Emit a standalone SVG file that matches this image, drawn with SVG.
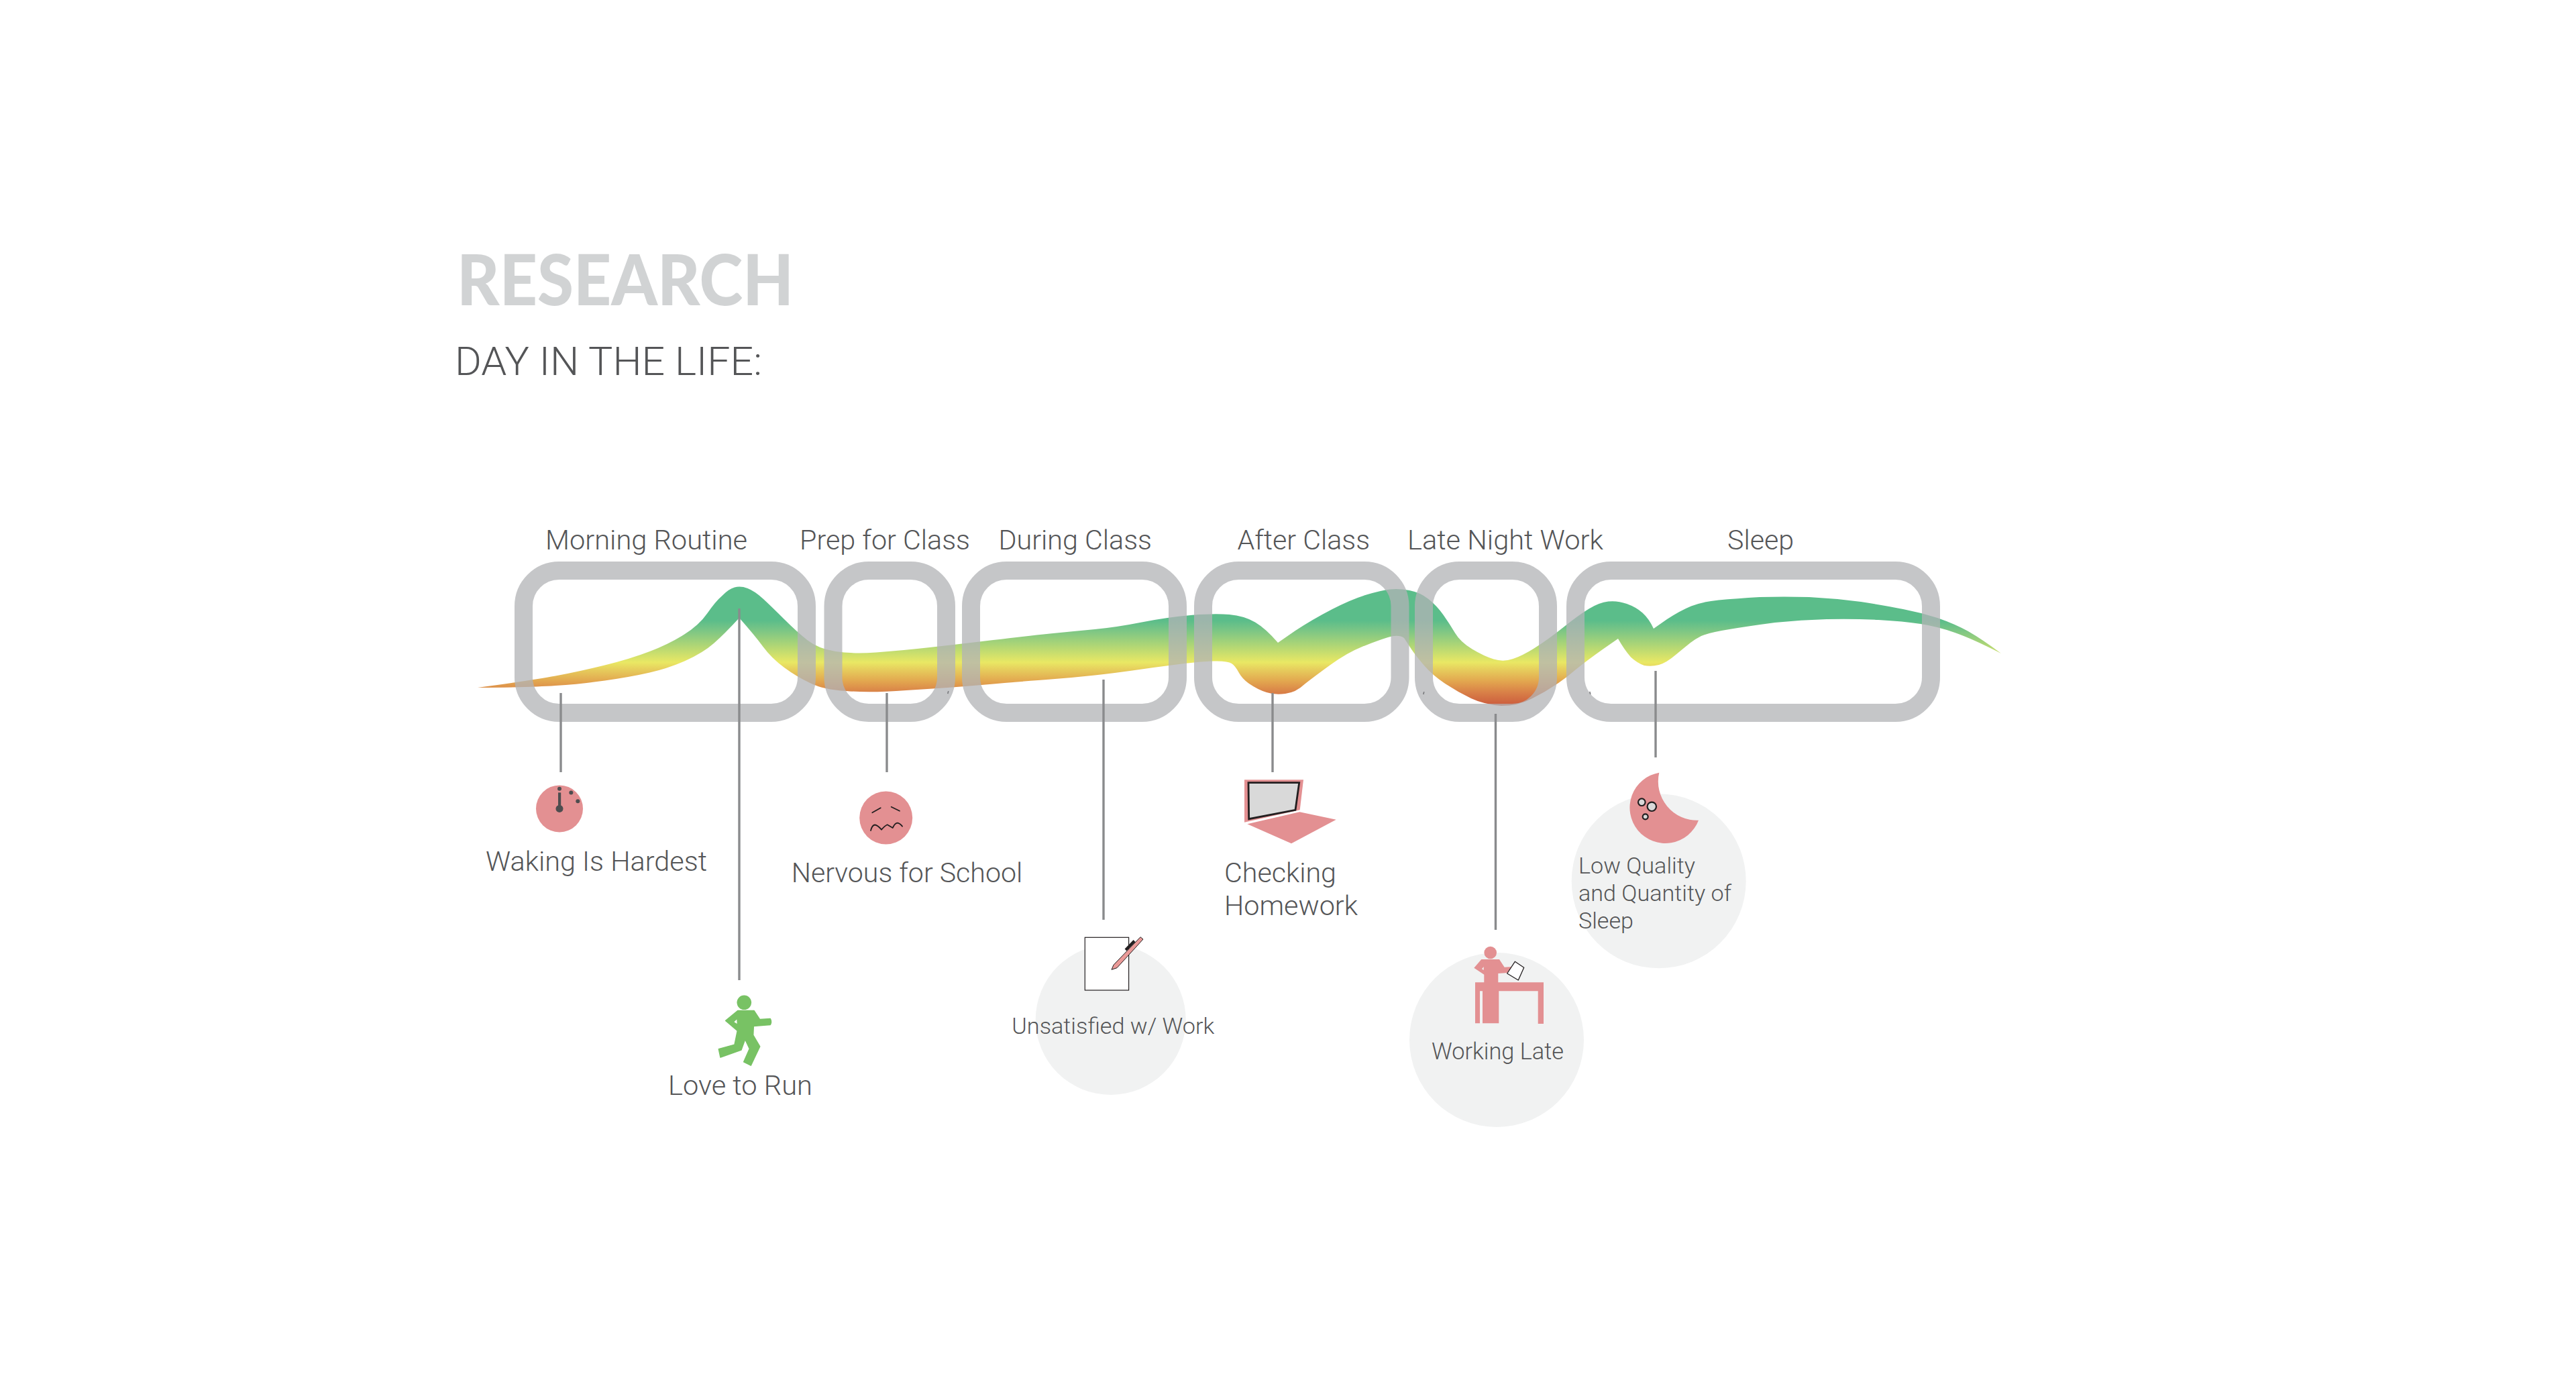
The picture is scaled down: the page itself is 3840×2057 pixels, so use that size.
<svg xmlns="http://www.w3.org/2000/svg" width="3840" height="2057" viewBox="0 0 3840 2057">
<style>
text{font-family:Roboto,"Liberation Sans",sans-serif;font-weight:285;fill:#545557}
.h{font-size:40px}
.s{font-size:34px}
.ring{fill:none;stroke:#b2b3b5;stroke-opacity:.75;stroke-width:27}
.conn{stroke:#8a8b8d;stroke-width:3.4;fill:none}
.pink{fill:#e39092}
.halo{fill:#f1f2f2}
.ink{fill:none;stroke:#231f20;stroke-width:1.8;stroke-linecap:round;stroke-linejoin:round}
</style>
<defs>
<linearGradient id="mood" gradientUnits="userSpaceOnUse" x1="0" y1="925" x2="0" y2="1052">
<stop offset="0" stop-color="#5bbd8a"/>
<stop offset=".12" stop-color="#7cc685"/>
<stop offset=".49" stop-color="#e9e864"/>
<stop offset=".58" stop-color="#e6cc5c"/>
<stop offset=".72" stop-color="#e2a44e"/>
<stop offset=".85" stop-color="#d87e47"/>
<stop offset="1" stop-color="#cb5a3c"/>
</linearGradient>
</defs>
<rect width="3840" height="2057" fill="#fff"/>
<g id="title">
<text x="681" y="455" textLength="502" lengthAdjust="spacingAndGlyphs" style="font-family:Lato,'Liberation Sans',sans-serif;font-weight:900;font-size:104px;fill:#d1d3d4">RESEARCH</text>
<text x="678" y="559" textLength="458" lengthAdjust="spacingAndGlyphs" style="font-size:60px">DAY IN THE LIFE:</text>
</g>
<g id="mood-ribbon">
<path fill="url(#mood)" d="M712,1025 Q793,1014 828,1007.5 Q863,1001 901.5,991.5 Q940,982 968.5,971 Q997,960 1019.5,946 Q1042,932 1054.5,914 Q1067,896 1076.5,888 Q1086,878 1095,875.5 Q1104,873 1114.5,877 Q1125,881 1137.5,892.5 Q1150,904 1169,923 Q1188,942 1204,954.5 Q1220,967 1245.5,971 Q1271,975 1306,972.5 Q1341,970 1386,965 Q1431,960 1480.5,954 Q1530,948 1565,944.5 Q1600,941 1632,938 Q1664,935 1702,927.5 Q1740,920 1775,917 Q1810,914 1832.5,916 Q1855,918 1871,927.5 Q1887,937 1905,958 L1931,940 Q1957,923 1986,908 Q2015,893 2037,886.5 Q2059,880 2072,878.5 Q2085,877 2101,880 Q2117,883 2129.5,893 Q2142,903 2151.5,916.5 Q2161,930 2169,943.5 Q2177,957 2194.5,967.5 Q2212,978 2226.5,982.5 Q2241,987 2255.5,982 Q2270,977 2289,965 Q2308,953 2330.5,935 Q2353,917 2368.5,907.5 Q2384,898 2397.5,896.5 Q2411,895 2425,900 Q2439,905 2448.5,913.5 Q2458,922 2465,937 L2485,923 Q2505,910 2521,903.5 Q2537,897 2562,894.5 Q2588,892 2623,890 Q2659,889 2697,890 Q2736,892 2774,897 Q2812,903 2837,908 Q2863,913 2888,921 Q2914,930 2934,941 Q2955,953 2983,974 Q2940,952 2914,943 Q2889,934 2863,930 Q2838,926 2800,924 Q2761,922 2723,923 Q2685,924 2646,928 Q2608,933 2578,938 Q2547,943 2536,948 Q2528,952 2520,958 Q2510,966 2498,976 Q2484,988 2473,991 Q2462,994 2451,992 Q2440,988 2431,979.5 Q2421,968 2412,952 L2389,968 Q2365,985 2349,998 Q2333,1012 2317,1022 Q2301,1033 2282,1042 Q2263,1052 2238,1052 Q2212,1050 2193,1041 Q2174,1032 2155,1019.5 Q2136,1007 2123,992 Q2110,977 2103.5,967 Q2097,957 2093,951 Q2085,945 2069,950 Q2053,955 2030.5,964 Q2008,973 1982.5,991.5 Q1957,1010 1944.5,1020 Q1932,1032 1916,1034 Q1900,1036 1888,1032 Q1875,1028 1862,1019 Q1852,1012 1847,1003 Q1841,992 1836,989 Q1830,985 1810,985.5 Q1791,986 1765.5,989 Q1740,992 1702,997.5 Q1664,1003 1632,1006.5 Q1600,1010 1566.5,1012.5 Q1533,1015 1469,1020.5 Q1405,1026 1351,1029 Q1297,1033 1262,1030 Q1227,1028 1207.5,1018 Q1188,1009 1169,995 Q1150,981 1137.5,964 Q1125,947 1102,921 Q1080,945 1064,959 Q1048,973 1022.5,984.5 Q997,996 968.5,1002.5 Q940,1009 901.5,1014.5 Q863,1020 828,1022 Q793,1024.5 712,1025 Z"/>
</g>
<g id="phase-morning"><rect class="ring" x="780.5" y="850.5" width="422" height="212" rx="53" ry="53"/><text class="h" x="813" y="819" textLength="301" lengthAdjust="spacingAndGlyphs">Morning Routine</text></g>
<g id="phase-prep"><rect class="ring" x="1242" y="850.5" width="168.500" height="212" rx="53" ry="53"/><text class="h" x="1192" y="819" textLength="254" lengthAdjust="spacingAndGlyphs">Prep for Class</text></g>
<g id="phase-during"><rect class="ring" x="1447.500" y="850.5" width="308" height="212" rx="53" ry="53"/><text class="h" x="1488.500" y="819" textLength="228.500" lengthAdjust="spacingAndGlyphs">During Class</text></g>
<g id="phase-after"><rect class="ring" x="1793.500" y="850.5" width="293.500" height="212" rx="53" ry="53"/><text class="h" x="1844.500" y="819" textLength="197.500" lengthAdjust="spacingAndGlyphs">After Class</text></g>
<g id="phase-night"><rect class="ring" x="2122.500" y="850.5" width="185" height="212" rx="53" ry="53"/><text class="h" x="2098" y="819" textLength="292" lengthAdjust="spacingAndGlyphs">Late Night Work</text></g>
<g id="phase-sleep"><rect class="ring" x="2348.500" y="850.5" width="530" height="212" rx="53" ry="53"/><text class="h" x="2575" y="819" textLength="99" lengthAdjust="spacingAndGlyphs">Sleep</text></g>
<g id="specks" fill="#77787b"><rect x="1412.500" y="1030" width="1.600" height="4" transform="rotate(15 1413 1032)"/><rect x="2121.500" y="1031" width="1.600" height="4" transform="rotate(15 2122 1033)"/><rect x="2369.500" y="1031" width="1.600" height="4" transform="rotate(-15 2370 1033)"/></g>
<g id="connectors">
<line class="conn" x1="836" y1="1033" x2="836" y2="1151"/>
<line class="conn" x1="1102" y1="907" x2="1102" y2="1461"/>
<line class="conn" x1="1322" y1="1033" x2="1322" y2="1151"/>
<line class="conn" x1="1645" y1="1013" x2="1645" y2="1371"/>
<line class="conn" x1="1897" y1="1033" x2="1897" y2="1151"/>
<line class="conn" x1="2229.500" y1="1064" x2="2229.500" y2="1386"/>
<line class="conn" x1="2468" y1="1000" x2="2468" y2="1129"/>
</g>
<g id="waking">
<circle class="pink" cx="834" cy="1205.400" r="35"/>
<g fill="#4d4d4f"><rect x="832" y="1181.400" width="4.200" height="24"/><circle cx="834" cy="1205.400" r="5.500"/><circle cx="834" cy="1175.700" r="3"/><circle cx="851.300" cy="1181.400" r="3"/><circle cx="861.300" cy="1194.300" r="3"/></g>
<text class="h" x="724" y="1297.500" textLength="330" lengthAdjust="spacingAndGlyphs">Waking Is Hardest</text>
</g>
<g id="run">
<circle cx="1109.300" cy="1494.300" r="10.800" fill="#78c264"/>
<path fill="#78c264" stroke="#78c264" stroke-width="1.500" stroke-linejoin="round" d="M1100,1506.400 L1124,1506.400 L1132.700,1519.600 L1148.300,1518.600 Q1150.700,1523.200 1148.300,1527.500 L1123.300,1529.600 L1122.700,1542.900 L1132.700,1560 L1119.300,1588.200 L1108.700,1582.900 L1117.300,1563.200 L1110.700,1549.300 L1105,1565 L1074,1576 L1071.300,1563.600 L1095,1557.100 L1099.300,1536.400 L1081.700,1521.400 Z"/>
<path fill="#fff" d="M1098.300,1519.600 L1094.300,1523.200 L1098.700,1526 Z"/>
<text class="h" x="996" y="1632" textLength="215" lengthAdjust="spacingAndGlyphs">Love to Run</text>
</g>
<g id="nervous">
<circle class="pink" cx="1320.700" cy="1219" r="39.500"/>
<path class="ink" d="M1300.300,1211.300 L1312.700,1204.300 M1328.700,1202.700 L1341,1208.700 M1298,1238 Q1300,1230 1304,1229.500 Q1308,1229.500 1314,1236.700 Q1319,1231 1322.700,1229.300 L1330.700,1234 Q1334,1227 1338,1226.700 Q1341,1227 1345,1231.700"/>
<text class="h" x="1179.700" y="1315" textLength="344.500" lengthAdjust="spacingAndGlyphs">Nervous for School</text>
</g>
<g id="unsatisfied">
<circle class="halo" cx="1655.700" cy="1520" r="112"/>
<rect x="1617.300" y="1397.300" width="65.300" height="78.700" fill="#fff" stroke="#231f20" stroke-width="1.200"/>
<path d="M1678,1416 L1691,1402.500" stroke="#231f20" stroke-width="4" fill="none"/>
<path fill="#ea9a98" stroke="#231f20" stroke-width="1" stroke-linejoin="round" d="M1657,1445.300 L1660,1438.300 L1700,1396.700 L1704,1400 L1665,1442.700 Z"/>
<text class="s" x="1508.300" y="1541" textLength="302" lengthAdjust="spacingAndGlyphs">Unsatisfied w/ Work</text>
</g>
<g id="homework">
<path class="pink" d="M1855,1162.300 L1943,1162.300 L1937.700,1207.300 L1855,1225.700 Z"/>
<path fill="#d9d9d9" stroke="#231f20" stroke-width="2.800" d="M1861,1166.700 L1936.700,1166.700 L1931,1207.300 L1861.700,1220.700 Z"/>
<path class="pink" d="M1859.300,1228.300 L1937.300,1210.300 L1991.700,1221.700 L1925,1257.300 Z"/>
<text class="h" x="1825" y="1315" textLength="167" lengthAdjust="spacingAndGlyphs">Checking</text>
<text class="h" x="1825" y="1364.300" textLength="199" lengthAdjust="spacingAndGlyphs">Homework</text>
</g>
<g id="working-late">
<circle class="halo" cx="2231" cy="1550" r="130"/>
<circle class="pink" cx="2221.700" cy="1420" r="9.300"/>
<path class="pink" d="M2208.300,1430 L2235,1430 L2242.700,1441.700 L2253.300,1441 L2248.300,1450 L2233.300,1451 L2233.300,1464.300 L2301,1464.300 L2301,1526 L2292.700,1526 L2292.700,1477.300 L2234.300,1477.300 L2234.300,1525.300 L2210,1525.300 L2210,1477.300 L2206,1477.300 L2206,1525.300 L2199,1525.300 L2199,1464.300 L2212.300,1464.300 L2212.300,1452.700 L2197.300,1442.700 Z"/>
<path fill="#f1f2f2" d="M2211.700,1441 L2209,1444.300 L2211.700,1446 Z"/>
<path fill="#fff" stroke="#231f20" stroke-width="1.300" stroke-linejoin="round" d="M2258.300,1433.300 L2271.700,1442.300 L2263.300,1461 L2246.700,1451 Z"/>
<text class="s" x="2134" y="1579" style="font-size:35px" textLength="197" lengthAdjust="spacingAndGlyphs">Working Late</text>
</g>
<g id="low-sleep">
<circle class="halo" cx="2472.700" cy="1313.300" r="130"/>
<path class="pink" d="M2473.300,1151.700 A53,53 0 1 0 2532,1222.700 A58,58 0 0 1 2473.300,1151.700 Z"/>
<g fill="#d9d9d9" stroke="#231f20" stroke-width="2.200"><circle cx="2447.300" cy="1195.700" r="5.300"/><circle cx="2462.300" cy="1202.300" r="6.700"/><circle cx="2452.700" cy="1217.300" r="4"/></g>
<text class="s" x="2353" y="1301.700" textLength="174" lengthAdjust="spacingAndGlyphs">Low Quality</text>
<text class="s" x="2353" y="1342.700" textLength="228" lengthAdjust="spacingAndGlyphs">and Quantity of</text>
<text class="s" x="2353" y="1384" textLength="82" lengthAdjust="spacingAndGlyphs">Sleep</text>
</g>
</svg>
